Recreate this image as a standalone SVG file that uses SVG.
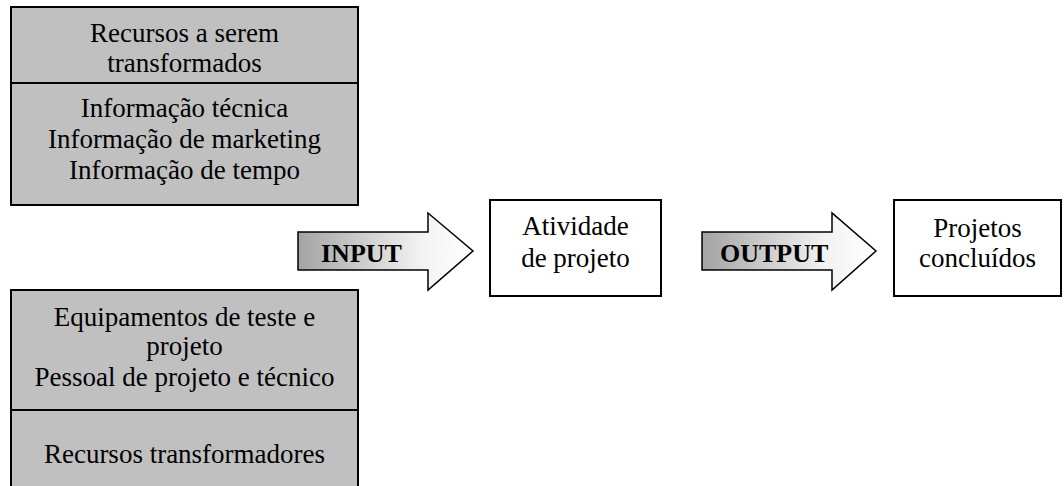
<svg xmlns="http://www.w3.org/2000/svg" width="1064" height="486" viewBox="0 0 1064 486">
<defs>
<linearGradient id="arrowGrad" x1="0" y1="0" x2="1" y2="0">
<stop offset="0" stop-color="#a3a3a3"/>
<stop offset="0.7" stop-color="#f2f2f2"/>
<stop offset="1" stop-color="#ffffff"/>
</linearGradient>
<style>
.gray{fill:#c0c0c0;stroke:#000;stroke-width:2}
.white{fill:#fff;stroke:#000;stroke-width:2}
.line{stroke:#000;stroke-width:2;fill:none}
.arrow{fill:url(#arrowGrad);stroke:#000;stroke-width:1.5;stroke-linejoin:miter}
text{font-family:"Liberation Serif","Times New Roman",serif;font-size:27px;fill:#000;text-anchor:middle}
.bold{font-weight:bold;font-size:26px;text-anchor:start}
</style>
</defs>
<rect width="1064" height="486" fill="#fff"/>
<g id="recursos-a-transformar">
<rect class="gray" x="11" y="7" width="347" height="198"/>
<line class="line" x1="11" y1="83" x2="358" y2="83"/>
<text x="184.5" y="42">Recursos a serem</text>
<text x="184.5" y="72">transformados</text>
<text x="184.5" y="117">Informação técnica</text>
<text x="184.5" y="148">Informação de marketing</text>
<text x="184.5" y="179">Informação de tempo</text>
</g>
<g id="recursos-transformadores">
<rect class="gray" x="11" y="290" width="347" height="210"/>
<line class="line" x1="11" y1="410" x2="358" y2="410"/>
<text x="184.5" y="326">Equipamentos de teste e</text>
<text x="184.5" y="355">projeto</text>
<text x="184.5" y="386">Pessoal de projeto e técnico</text>
<text x="184.5" y="463">Recursos transformadores</text>
</g>
<g id="connectors">
<g id="input-arrow">
<path class="arrow" d="M298,232 H428 V213 L473,251 L428,290 V270 H298 Z"/>
<text class="bold" x="321" y="262">INPUT</text>
</g>
<g id="output-arrow">
<path class="arrow" d="M702,232 H832 V213 L876,251 L832,290 V270 H702 Z"/>
<text class="bold" x="720" y="262">OUTPUT</text>
</g>
</g>
<g id="atividade">
<rect class="white" x="490" y="200" width="171" height="96"/>
<text x="575.5" y="235">Atividade</text>
<text x="575.5" y="267">de projeto</text>
</g>
<g id="projetos">
<rect class="white" x="894" y="200" width="167" height="96"/>
<text x="977.5" y="237">Projetos</text>
<text x="977.5" y="267">concluídos</text>
</g>
</svg>
